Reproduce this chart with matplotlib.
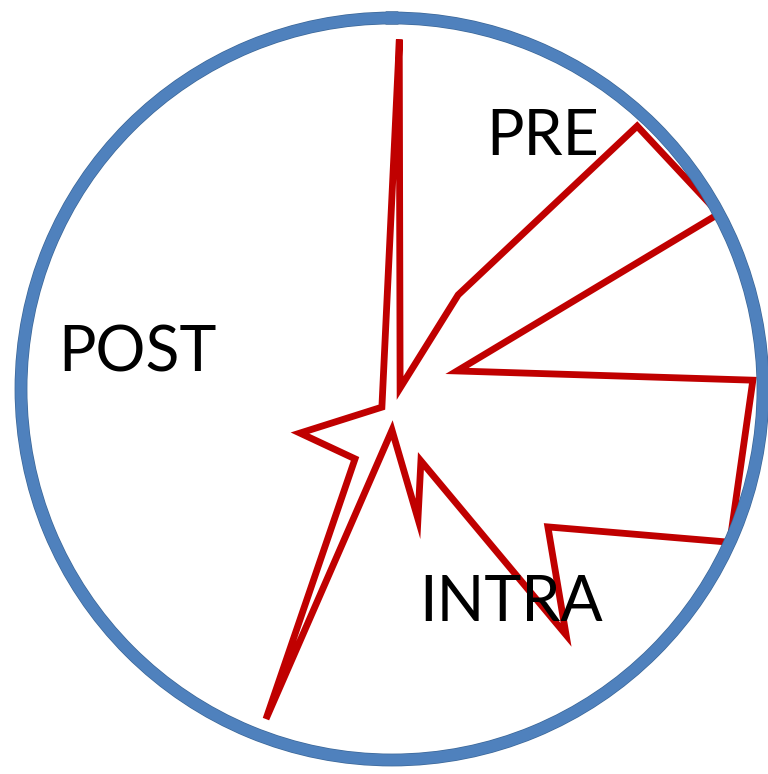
import numpy as np
import matplotlib.pyplot as plt
import matplotlib.patheffects as pe

# vertices of the red outline: angle (deg, clockwise from top) and radius (0-100)
angles = [1.2, 82.9, 35.1, 43.0, 61.8, 74.5, 88.6, 114.4, 131.5, 144.7,
          158.1, 168.7, 180.0, 200.9, 207.9, 244.4, 209.1]
radii = [93.3, 2.2, 31.0, 96.9, 100.0, 18.2, 97.3, 100.0, 56.1, 81.2,
         20.9, 35.7, 11.1, 95.2, 21.3, 27.5, 5.6]

labels = ["PRE", "POST", "INTRA"]
label_pos = [(543, 137), (137, 353), (511, 603)]  # pixel centres

W, H = 768, 774
fig = plt.figure(figsize=(W / 100, H / 100), dpi=100)

cx, cy, R = 392, 389, 371
ax = fig.add_axes([(cx - R) / W, (H - cy - R) / H, 2 * R / W, 2 * R / H],
                  projection='polar')
ax.set_theta_zero_location('N')
ax.set_theta_direction(-1)
ax.set_ylim(0, 100)

th = np.deg2rad(angles + angles[:1])
rr = radii + radii[:1]
ax.plot(th, rr, color='#C00000', linewidth=4.9, solid_joinstyle='miter')

ax.grid(False)
ax.set_xticks([])
ax.set_yticks([])
sp = ax.spines['polar']
sp.set_color('#4F81BD')
sp.set_linewidth(8.2)
sp.set_path_effects([pe.Stroke(linewidth=9.2, foreground='#3B6697'), pe.Normal()])

for txt, (x, y) in zip(labels, label_pos):
    fig.text(x / W, 1 - y / H, txt, ha='center', va='center',
             fontsize=45, family='Lato', color='black')

plt.savefig("out.png", dpi=100)
